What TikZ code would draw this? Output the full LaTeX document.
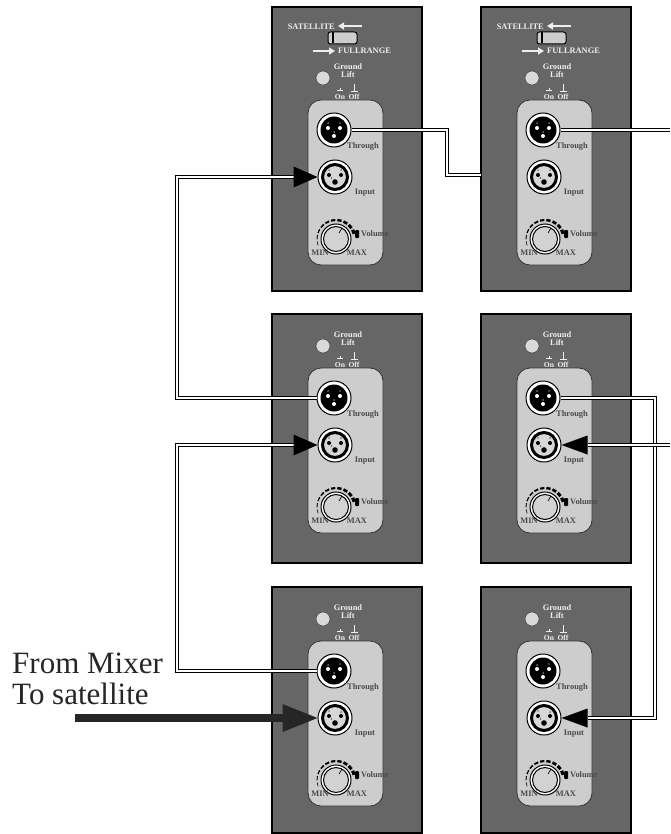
\documentclass[tikz,border=0pt]{standalone}
\usepackage{fontspec}
\setmainfont{Liberation Serif}
\usetikzlibrary{arrows.meta}
\definecolor{panelgray}{HTML}{666666}
\definecolor{innergray}{HTML}{CDCDCD}
\definecolor{lbl}{HTML}{EEEEEE}
\definecolor{dlbl}{HTML}{4A4A4A}
\tikzset{
 panelbox/.style={fill=panelgray, draw=black, line width=1.4pt},
 innerbox/.style={fill=innergray, draw=black!80, line width=0.8pt, rounded corners=13pt},
 plabel/.style={font=\bfseries\fontsize{8.4}{8.4}\selectfont, text=lbl, inner sep=0pt},
 slabel/.style={font=\bfseries\fontsize{7.6}{7.6}\selectfont, text=lbl, inner sep=0pt},
 ilabel/.style={font=\bfseries\fontsize{8.4}{8.4}\selectfont, text=dlbl, inner sep=0pt},
 pinnum/.style={font=\bfseries\fontsize{3}{3}\selectfont, inner sep=0pt},
 cable/.style={draw=black, line width=1.35pt, double=white, double distance=1.9pt},
 xlrnode/.style={circle, minimum size=34pt, inner sep=0pt, fill=white, draw=black, line width=1pt},
 smallarrow/.style={lbl, line width=1.3pt, -{Triangle[length=6pt,width=7pt]}},
 bigtext/.style={font=\fontsize{31}{31}\selectfont, inner sep=0pt, anchor=base west, text=black!85},
}
% #1 x, #2 top y, #3 height, #4 name prefix, #5 vertical offset of the lower layout
\newcommand\drawpanel[5]{%
 \draw[panelbox] (#1,#2) rectangle ++(150,#3);
 \begin{scope}[shift={(#1,#2+#5)}]
  \filldraw[fill=black!15, draw=black!70, line width=0.6pt] (51,32) circle (7);
  \node[plabel] at (76,21) {Ground};
  \node[plabel] at (76,29) {Lift};
  \draw[lbl, line width=0.8pt] (65,44)--(71,44) (68,44)--(68,42.2);
  \draw[lbl, line width=0.8pt] (82,38)--(82,45) (78.5,45)--(85.5,45);
  \node[slabel] at (68,51) {On};
  \node[slabel] at (82,51) {Off};
  \draw[innerbox] (36,54) rectangle (111,219);
  % Through (male)
  \node[xlrnode] (#4th) at (62,84) {};
  \fill[black] (62,84) circle (13.5);
  \fill[white] (56,82) circle (2) (68,82) circle (2) (62,90) circle (2);
  \node[pinnum, text=white] at (56,78) {2};
  \node[pinnum, text=white] at (68,78) {1};
  \node[pinnum, text=white] at (62,86.3) {3};
  \node[ilabel] at (91,101) {Through};
  % Input (female)
  \node[xlrnode] (#4in) at (63,131) {};
  \filldraw[fill=innergray!80, draw=black, line width=3pt] (63,131) circle (12.5);
  \fill[black] (57,129) circle (2) (69,129) circle (2) (63,136) circle (2.8);
  \node[pinnum] at (57,125) {1};
  \node[pinnum] at (69,125) {2};
  \node[pinnum] at (59.5,133) {3};
  \node[ilabel] at (93,147) {Input};
  % Volume knob
  \foreach \i in {0,...,9}{%
   \pgfmathsetmacro\sa{160+19*\i}%
   \pgfmathsetmacro\lw{0.6+0.3*\i}%
   \draw[line width=\lw pt] (64,193) ++(\sa:19) arc[start angle=\sa, end angle=\sa+13, radius=19];
  }
  \fill[black, rounded corners=1pt] (83,184) rectangle (87,192);
  \filldraw[fill=white, draw=black, line width=1pt] (64,193) circle (15);
  \filldraw[fill=innergray!90, draw=black, line width=1pt] (64,193) circle (12.5);
  \draw[black, line width=0.7pt] (67,187) -- (70,182);
  \node[ilabel, anchor=west] at (89,188) {Volume};
  \node[ilabel] at (48,207) {MIN};
  \node[ilabel] at (85,207) {MAX};
 \end{scope}}
\newcommand\drawsat[2]{%
 \begin{scope}[shift={(#1,#2)}]
  \node[plabel, anchor=east] at (63,20) {SATELLITE};
  \draw[smallarrow] (90,19) -- (66,19);
  \draw[fill=innergray, draw=black, line width=1pt, rounded corners=2.5pt] (56,25) rectangle (85,37);
  \draw[black, line width=2pt] (61,25.5) -- (61,36.5);
  \draw[smallarrow] (41,44) -- (63,44);
  \node[plabel, anchor=west] at (66,44) {FULLRANGE};
 \end{scope}}
\begin{document}
\begin{tikzpicture}[x=1pt, y=-1pt]
\useasboundingbox (0,0) rectangle (670,834);
\fill[white] (0,0) rectangle (670,834);
% panels
\drawpanel{272}{7}{284}{tl}{39}
\drawsat{272}{7}
\drawpanel{481}{7}{284}{tr}{39}
\drawsat{481}{7}
\drawpanel{272}{314}{249}{ml}{0}
\drawpanel{481}{314}{249}{mr}{0}
\drawpanel{272}{587}{246}{bl}{0}
\drawpanel{481}{587}{246}{br}{0}
% helper coordinates
\coordinate (xa) at (447,0);
\coordinate (trEdge) at (481,175);
\coordinate (rEdgeA) at (670,0);
\coordinate (xl) at (177,0);
\coordinate (xr) at (655,0);
\coordinate (mixStart) at (75,718);
\coordinate (b3) at ([xshift=-24pt]tlin.west);
\coordinate (b4) at ([xshift=-24pt]mlin.west);
\coordinate (b5) at ([xshift=-35pt]blin.west);
\coordinate (b6) at ([xshift=26pt]brin.east);
\coordinate (b7) at ([xshift=26pt]mrin.east);
% cable 1: top-left through -> top-right (goes behind panel)
\draw[cable] (tlth.east) -- (tlth.east -| xa) -- (xa |- trEdge) -- (trEdge);
% cable 2: top-right through -> off the page
\draw[cable] (trth.east) -- (trth.east -| rEdgeA);
% cable 3: middle-left through -> top-left input
\draw[cable] (mlth.west) -- (mlth.west -| xl) -- (xl |- b3) -- (b3);
\fill[black] ([yshift=10.5pt]b3) -- (tlin.west) -- ([yshift=-10.5pt]b3) -- cycle;
% cable 4: bottom-left through -> middle-left input
\draw[cable] (blth.west) -- (blth.west -| xl) -- (xl |- b4) -- (b4);
\fill[black] ([yshift=10.5pt]b4) -- (mlin.west) -- ([yshift=-10.5pt]b4) -- cycle;
% mixer feed
\draw[black!85, line width=7.5pt] (mixStart) -- (b5);
\fill[black!85] ([yshift=14pt]b5) -- (blin.west) -- ([yshift=-14pt]b5) -- cycle;
% cable 6: middle-right through -> bottom-right input
\draw[cable] (mrth.east) -- (mrth.east -| xr) -- (xr |- b6) -- (b6);
\fill[black] ([yshift=9.5pt]b6) -- (brin.east) -- ([yshift=-9.5pt]b6) -- cycle;
% cable 7: from the right -> middle-right input
\draw[cable] (b7 -| rEdgeA) -- (b7);
\fill[black] ([yshift=9.5pt]b7) -- (mrin.east) -- ([yshift=-9.5pt]b7) -- cycle;
% text
\node[bigtext] (txtA) at (12,673) {From Mixer};
\node[bigtext] (txtB) at (12,704) {To satellite};
\end{tikzpicture}
\end{document}
